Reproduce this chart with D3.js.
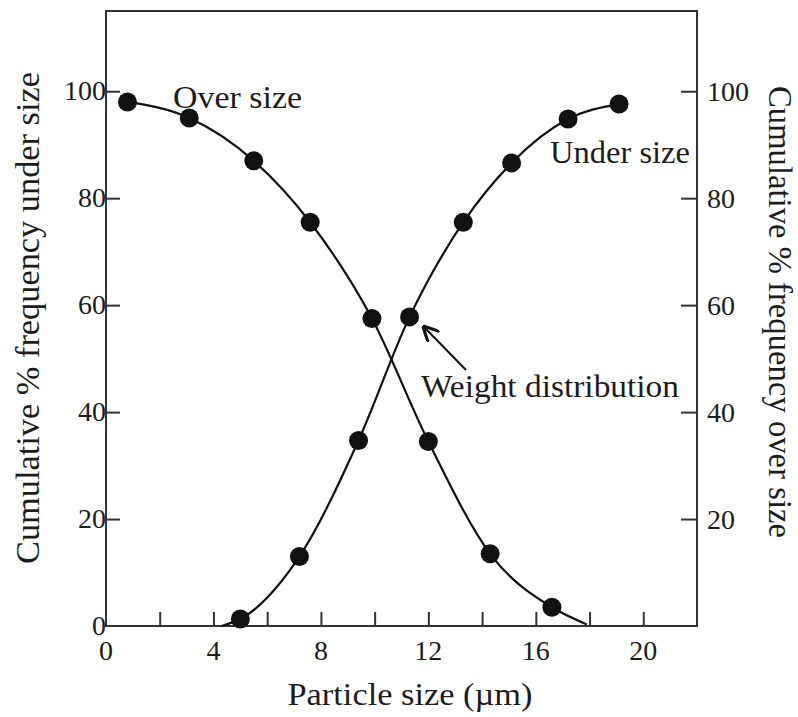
<!DOCTYPE html>
<html>
<head>
<meta charset="utf-8">
<script src="https://cdn.jsdelivr.net/npm/d3@7"></script>
<style>
body { margin: 0; background: #fff; }
svg text { font-family: "Liberation Serif", "DejaVu Serif", serif; fill: #1c1c1c; }
</style>
</head>
<body>
<svg id="chart" width="798" height="717"></svg>
<script>
// values
var overX = [0.8, 3.1, 5.5, 7.6, 9.9, 12.0, 14.3, 16.6]
var overY = [98, 95, 87, 75.5, 57.5, 34.5, 13.5, 3.5]
var underX = [5.0, 7.2, 9.4, 11.3, 13.3, 15.1, 17.2, 19.1]
var underY = [1.3, 13, 34.7, 57.8, 75.5, 86.6, 94.8, 97.6]
// where the drawn curves run out to the axis
var overEnd = [17.9, 0.3]
var underStart = [4.3, 0]
var xTicks = [2, 4, 6, 8, 10, 12, 14, 16, 18, 20]
var xLabels = [0, 4, 8, 12, 16, 20]
var leftLabels = [0, 20, 40, 60, 80, 100]
var rightLabels = [20, 40, 60, 80, 100]

var svg = d3.select("#chart")
var plotLeft = 106, plotRight = 697, plotTop = 11, plotBottom = 626

var x = d3.scaleLinear().domain([0, 22]).range([plotLeft, plotRight])
var y = d3.scaleLinear().domain([0, 115]).range([plotBottom, plotTop])

// frame
svg.append("rect")
    .attr("x", plotLeft).attr("y", plotTop)
    .attr("width", plotRight - plotLeft).attr("height", plotBottom - plotTop)
    .style("fill", "none").style("stroke", "#333").style("stroke-width", 2)

// X axis ticks (inside, pointing up)
svg.append("g")
    .attr("transform", "translate(0," + plotBottom + ")")
    .call(d3.axisTop(x).tickValues(xTicks).tickSize(14).tickFormat(""))
    .call(g => g.select(".domain").remove())
    .selectAll("line").style("stroke", "#333").style("stroke-width", 2)

svg.selectAll(".xlab")
    .data(xLabels).enter().append("text")
    .attr("x", d => x(d)).attr("y", plotBottom + 34)
    .attr("text-anchor", "middle").attr("font-size", "28px")
    .text(d => d)

// left Y axis
svg.append("g")
    .attr("transform", "translate(" + plotLeft + ",0)")
    .call(d3.axisRight(y).tickValues([20, 40, 60, 80, 100]).tickSize(14).tickFormat(""))
    .call(g => g.select(".domain").remove())
    .selectAll("line").style("stroke", "#333").style("stroke-width", 2)

svg.selectAll(".ylab")
    .data(leftLabels).enter().append("text")
    .attr("x", plotLeft).attr("y", d => y(d) + 9)
    .attr("text-anchor", "end").attr("font-size", "28px")
    .text(d => d)

// right Y axis
svg.append("g")
    .attr("transform", "translate(" + plotRight + ",0)")
    .call(d3.axisLeft(y).tickValues(rightLabels).tickSize(16).tickFormat(""))
    .call(g => g.select(".domain").remove())
    .selectAll("line").style("stroke", "#333").style("stroke-width", 2)

svg.selectAll(".rlab")
    .data(rightLabels).enter().append("text")
    .attr("x", plotRight + 10).attr("y", d => y(d) + 10)
    .attr("text-anchor", "start").attr("font-size", "28px")
    .text(d => d)

// axis titles
svg.append("text")
    .attr("x", 410).attr("y", 705)
    .attr("text-anchor", "middle").attr("font-size", "31px")
    .attr("textLength", 245).attr("lengthAdjust", "spacingAndGlyphs")
    .text("Particle size (\u00b5m)")

svg.append("text")
    .attr("transform", "translate(39,318) rotate(-90)")
    .attr("text-anchor", "middle").attr("font-size", "34px")
    .attr("textLength", 492).attr("lengthAdjust", "spacingAndGlyphs")
    .text("Cumulative % frequency under size")

svg.append("text")
    .attr("transform", "translate(769,312) rotate(90)")
    .attr("text-anchor", "middle").attr("font-size", "34px")
    .attr("textLength", 452).attr("lengthAdjust", "spacingAndGlyphs")
    .text("Cumulative % frequency over size")

// curves
var line = d3.line().x(d => x(d[0])).y(d => y(d[1])).curve(d3.curveMonotoneX)
var overPts = d3.zip(overX, overY)
var underPts = d3.zip(underX, underY)

svg.append("path")
    .datum(overPts.concat([overEnd]))
    .attr("d", line)
    .style("fill", "none").style("stroke", "#111").style("stroke-width", 2.2)

svg.append("path")
    .datum([underStart].concat(underPts))
    .attr("d", line)
    .style("fill", "none").style("stroke", "#111").style("stroke-width", 2.2)

svg.selectAll(".overDot")
    .data(overPts).enter().append("circle")
    .attr("cx", d => x(d[0])).attr("cy", d => y(d[1])).attr("r", 9.5)
    .style("fill", "#111")

svg.selectAll(".underDot")
    .data(underPts).enter().append("circle")
    .attr("cx", d => x(d[0])).attr("cy", d => y(d[1])).attr("r", 9.5)
    .style("fill", "#111")

// annotations
svg.append("text")
    .attr("x", 173).attr("y", 108).attr("font-size", "31px")
    .attr("textLength", 129).attr("lengthAdjust", "spacingAndGlyphs")
    .text("Over size")

svg.append("text")
    .attr("x", 550).attr("y", 163).attr("font-size", "31px")
    .attr("textLength", 140).attr("lengthAdjust", "spacingAndGlyphs")
    .text("Under size")

svg.append("text")
    .attr("x", 421).attr("y", 397).attr("font-size", "31px")
    .attr("textLength", 258).attr("lengthAdjust", "spacingAndGlyphs")
    .text("Weight distribution")

svg.append("defs").append("marker")
    .attr("id", "arrow").attr("viewBox", "0 0 10 10")
    .attr("refX", 8).attr("refY", 5)
    .attr("markerWidth", 8).attr("markerHeight", 8)
    .attr("orient", "auto")
  .append("path")
    .attr("d", "M0,0 L10,5 L0,10")
    .style("fill", "none").style("stroke", "#111").style("stroke-width", 2)

svg.append("line")
    .attr("x1", 466).attr("y1", 370)
    .attr("x2", 425).attr("y2", 328)
    .style("stroke", "#111").style("stroke-width", 2)
    .attr("marker-end", "url(#arrow)")
</script>
</body>
</html>
